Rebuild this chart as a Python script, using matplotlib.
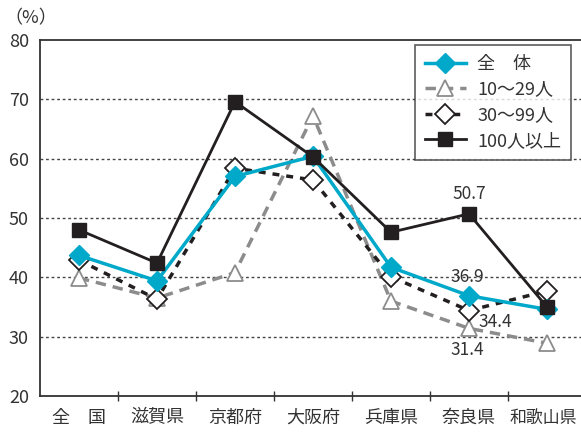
import matplotlib
matplotlib.use("Agg")
import matplotlib.pyplot as plt
from matplotlib.ticker import FixedLocator

plt.rcParams['font.family'] = ['Noto Sans CJK JP', 'DejaVu Sans']

categories = ['全　国', '滋賀県', '京都府', '大阪府', '兵庫県', '奈良県', '和歌山県']
series_names = ['全　体', '10〜29人', '30〜99人', '100人以上']
zentai = [43.7, 39.4, 57.0, 60.4, 41.7, 36.9, 34.6]
s10_29 = [39.9, 36.5, 40.8, 67.2, 36.0, 31.4, 28.9]
s30_99 = [42.9, 36.3, 58.4, 56.4, 40.1, 34.4, 37.7]
s100 = [48.0, 42.4, 69.6, 60.3, 47.6, 50.7, 35.0]
yticks = [20, 30, 40, 50, 60, 70, 80]

W, H = 581, 434
fig = plt.figure(figsize=(W / 100, H / 100), dpi=100)
ax = fig.add_axes([40 / W, (H - 396) / H, 546 / W, 356 / H])

x = list(range(len(categories)))
cyan = '#00A9C9'
gray = '#8C8C8C'
blk = '#231F20'

ax.plot(x, s10_29, color=gray, lw=2.5, ls=(0, (3, 2)), marker='^', ms=12,
        mfc='white', mec=gray, mew=1.3, label=series_names[1], zorder=3)
ax.plot(x, s30_99, color=blk, lw=2.5, ls=(0, (2, 2)), marker='D', ms=10,
        mfc='white', mec=blk, mew=1.3, label=series_names[2], zorder=4)
ax.plot(x, zentai, color=cyan, lw=2.5, marker='D', ms=10,
        mfc=cyan, mec=cyan, label=series_names[0], zorder=5)
ax.plot(x, s100, color=blk, lw=2, marker='s', ms=10,
        mfc=blk, mec=blk, label=series_names[3], zorder=6)

ax.set_xlim(-0.5, 6.5)
ax.set_ylim(20, 80)
ax.set_yticks(yticks)
ax.set_xticks(x)
ax.set_xticklabels(categories[:-1] + [''])
ax.xaxis.set_minor_locator(FixedLocator([i + 0.5 for i in range(6)]))
ax.tick_params(axis='x', which='major', length=0, pad=9, labelsize=13, colors='#333333')
ax.tick_params(axis='x', which='minor', length=7, direction='inout', width=1, color='#333333')
ax.tick_params(axis='y', length=0, pad=8, labelsize=13, colors='#333333')
# last category label, slightly smaller and nudged left so it fits
ax.annotate(categories[-1], xy=(x[-1], 0), xycoords=('data', 'axes fraction'),
            xytext=(-3, -9.5), textcoords='offset points', ha='center', va='top',
            fontsize=12.2, color='#333333', annotation_clip=False)

for v in [30, 40, 50, 60, 70]:
    ax.axhline(v, color='#444444', lw=1, ls=(0, (2, 2)), zorder=1)

ax.spines['right'].set_visible(False)
for s in ['top', 'left', 'bottom']:
    ax.spines[s].set_color('#333333')
    ax.spines[s].set_linewidth(1.3)

ann_color = '#333333'
fs = 12.5
ax.annotate(f'{s100[5]:.1f}', (5, s100[5]), xytext=(0, 8), textcoords='offset points',
            ha='center', va='bottom', fontsize=fs, color=ann_color)
ax.annotate(f'{zentai[5]:.1f}', (5, zentai[5]), xytext=(-1, 7), textcoords='offset points',
            ha='center', va='bottom', fontsize=fs, color=ann_color)
ax.annotate(f'{s30_99[5]:.1f}', (5, s30_99[5]), xytext=(19, -8), textcoords='offset points',
            ha='center', va='center', fontsize=fs, color=ann_color)
ax.annotate(f'{s10_29[5]:.1f}', (5, s10_29[5]), xytext=(-1, -9), textcoords='offset points',
            ha='center', va='top', fontsize=fs, color=ann_color)

fig.text(4 / W, 1 - 18 / H, '（%）', fontsize=13, color='#333333', va='center', ha='left')

handles, labels = ax.get_legend_handles_labels()
order = [2, 0, 1, 3]
leg = ax.legend([handles[i] for i in order], [labels[i] for i in order],
                loc='upper right', bbox_to_anchor=(571 / W, 1 - 45 / H),
                bbox_transform=fig.transFigure, fontsize=13, frameon=True,
                fancybox=False, edgecolor='#333333', handlelength=2.3,
                labelspacing=0.42, borderpad=0.55, handletextpad=0.6,
                borderaxespad=0)
leg.get_frame().set_linewidth(1.2)
for t in leg.get_texts():
    t.set_color('#333333')

fig.savefig('out.png', dpi=100)
